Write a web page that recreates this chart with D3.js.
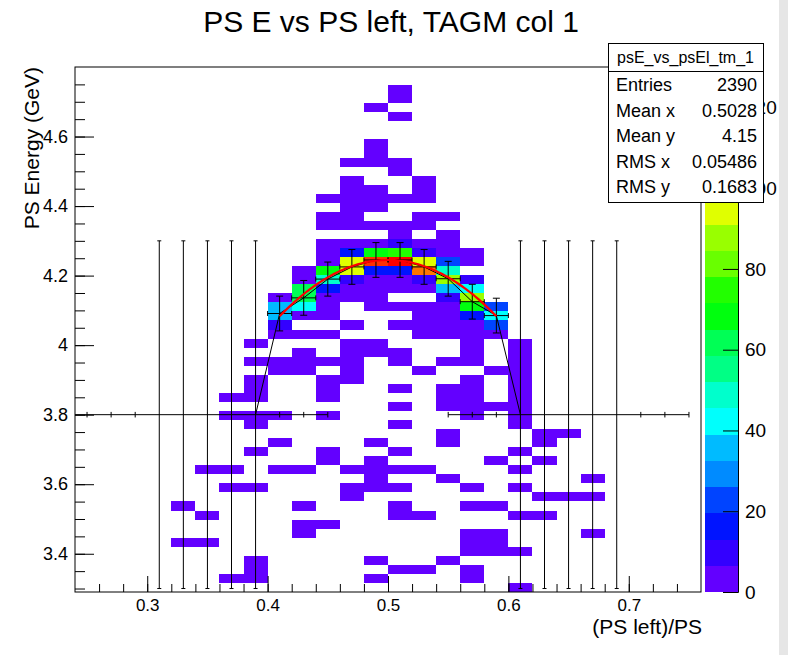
<!DOCTYPE html>
<html>
<head>
<meta charset="utf-8">
<script src="https://cdn.jsdelivr.net/npm/d3@7"></script>
<style>
  body { margin: 0; background: #fff; }
  svg { display: block; }
  text { font-family: "Liberation Sans", Arial, Helvetica, sans-serif; fill: #000; }
</style>
</head>
<body>
<svg id="chart" width="788" height="655"></svg>
<script>
// ---- histogram binning ----
const xRange = [0.24, 0.76];
const xBinCount = 26;
const yRange = [3.29, 4.80];
const yBinCount = 58;
const zRange = [0, 130];
const contourCount = 20;

// non-empty bins: [x bin, y bin, content]
const binContents = [
  [13,55,2],[13,54,2],[12,53,1],[13,52,1],[12,49,2],[12,48,2],
  [11,47,1],[12,47,3],[13,47,2],[13,46,1],
  [11,45,2],[14,45,1],
  [11,44,3],[12,44,2],[14,44,2],
  [10,43,1],[11,43,3],[12,43,4],[13,43,2],[14,43,2],
  [11,42,2],[12,42,3],
  [10,41,2],[11,41,3],[14,41,2],[15,41,1],
  [10,40,3],[11,40,4],[12,40,5],[13,40,4],[14,40,3],
  [13,39,3],[15,39,2],
  [10,38,3],[11,38,5],[12,38,6],[13,38,10],[14,38,5],[15,38,3],
  [10,37,4],[11,37,16],[12,37,68],[13,37,74],[14,37,10],[15,37,4],[16,37,2],
  [10,36,5],[11,36,94],[12,36,120],[13,36,127],[14,36,94],[15,36,22],[16,36,3],
  [9,35,3],[10,35,68],[11,35,94],[12,35,16],[13,35,16],[14,35,113],[15,35,48],
  [9,34,4],[10,34,48],[11,34,10],[12,34,5],[13,34,4],[14,34,10],[15,34,87],[16,34,10],
  [9,33,61],[10,33,16],[11,33,5],[12,33,4],[13,33,3],[14,33,5],[15,33,35],[16,33,42],
  [8,32,4],[9,32,61],[10,32,6],[11,32,3],[12,32,3],[15,32,10],[16,32,87],
  [8,31,35],[9,31,42],[10,31,5],[12,31,2],[13,31,3],[14,31,4],[15,31,5],[16,31,68],[17,31,22],
  [8,30,35],[9,30,5],[10,30,3],[14,30,3],[15,30,4],[16,30,16],[17,30,42],
  [8,29,10],[11,29,2],[13,29,2],[14,29,3],[15,29,3],[16,29,5],[17,29,22],
  [8,28,4],[9,28,3],[10,28,2],[14,28,2],[15,28,3],[16,28,3],[17,28,5],
  [7,27,2],[11,27,2],[12,27,1],[16,27,2],[18,27,2],
  [9,26,1],[11,26,2],[12,26,2],[13,26,1],[16,26,1],[18,26,2],
  [7,25,1],[8,25,2],[9,25,2],[10,25,3],[11,25,2],[13,25,2],[15,25,1],[16,25,2],[18,25,1],
  [8,24,1],[9,24,2],[11,24,1],[14,24,1],[17,24,2],[18,24,2],
  [7,23,1],[10,23,2],[11,23,1],[16,23,1],[18,23,1],
  [7,22,2],[10,22,1],[13,22,1],[15,22,2],[16,22,1],[18,22,2],
  [6,21,1],[7,21,1],[10,21,2],[15,21,1],[16,21,2],[18,21,1],
  [13,20,1],[15,20,1],[16,20,1],[17,20,1],[18,20,2],
  [6,19,1],[7,19,2],[8,19,1],[10,19,1],[16,19,1],[18,19,1],
  [7,18,1],[13,18,1],[18,18,1],
  [15,17,1],[19,17,1],[20,17,1],
  [8,16,1],[12,16,1],[15,16,1],[19,16,1],
  [7,15,1],[10,15,1],[13,15,1],[18,15,1],
  [10,14,1],[12,14,2],[17,14,1],[19,14,1],
  [5,13,1],[6,13,1],[8,13,1],[9,13,1],[11,13,1],[12,13,2],[13,13,1],[14,13,1],[18,13,1],
  [12,12,1],[15,12,1],[21,12,1],
  [6,11,1],[7,11,1],[11,11,1],[12,11,1],[13,11,1],[16,11,1],[18,11,1],
  [11,10,1],[19,10,1],[20,10,1],[21,10,1],
  [4,9,1],[9,9,1],[13,9,1],[16,9,1],[17,9,1],
  [5,8,1],[13,8,1],[14,8,1],[18,8,1],[19,8,1],
  [9,7,1],[10,7,1],
  [9,6,1],[16,6,1],[17,6,1],[21,6,1],
  [4,5,1],[5,5,1],[16,5,1],[17,5,1],
  [16,4,1],[17,4,1],[18,4,1],
  [7,3,1],[12,3,1],[15,3,1],
  [7,2,1],[13,2,1],[14,2,1],[16,2,1],
  [6,1,1],[7,1,1],[12,1,1],[16,1,1],
  [18,0,1]
];

// peak positions per slice (fitted slices)
const peakX   = [0.41, 0.43, 0.45, 0.47, 0.49, 0.51, 0.53, 0.55, 0.57, 0.59];
const peakY   = [4.091, 4.136, 4.190, 4.225, 4.245, 4.245, 4.225, 4.191, 4.125, 4.085];
const peakErr = [0.050, 0.050, 0.049, 0.050, 0.050, 0.050, 0.050, 0.050, 0.050, 0.050];
// slices without a fit, placed at the default energy
const sideX   = [0.25, 0.27, 0.29, 0.31, 0.33, 0.35, 0.37, 0.39, 0.41, 0.43, 0.45,
                 0.55, 0.57, 0.59, 0.61, 0.63, 0.65, 0.67, 0.69, 0.71, 0.73, 0.75];
const sideErr = [0.008, 0.008, 0.008, 0.5, 0.5, 0.5, 0.5, 0.5, 0.008, 0.008, 0.008,
                 0.008, 0.008, 0.008, 0.5, 0.5, 0.5, 0.5, 0.5, 0.008, 0.008, 0.008];
const sideY = 3.8;
// quadratic fit about x = 0.5
const fitCoef = [4.245, 0.0, -20.0];
const fitCenter = 0.5;
const fitRange = [0.41, 0.59];

const xTicks = [0.3, 0.4, 0.5, 0.6, 0.7];
const yTicks = [3.4, 3.6, 3.8, 4.0, 4.2, 4.4, 4.6];
const zTicks = [0, 20, 40, 60, 80, 100, 120];

const titleText = "PS E vs PS left, TAGM col 1";
const xTitle = "(PS left)/PS";
const yTitle = "PS Energy (GeV)";
const statsName = "psE_vs_psEl_tm_1";
const statsLabels = ["Entries", "Mean x", "Mean y", "RMS x", "RMS y"];
const statsValues = ["2390", "0.5028", "4.15", "0.05486", "0.1683"];

// ---- layout ----
const frame = { left: 75, right: 701, top: 67, bottom: 592 };
const bar = { left: 705, right: 738 };

const svg = d3.select("#chart");
const xs = d3.scaleLinear().domain(xRange).range([frame.left, frame.right]);
const ys = d3.scaleLinear().domain(yRange).range([frame.bottom, frame.top]);
const zs = d3.scaleLinear().domain(zRange).range([frame.bottom, frame.top]);

// rainbow palette: 50 colours, hue 280 -> 0
const baseColors = d3.range(50).map(i => d3.hsl(280 - (i + 1) * 5.6, 1, 0.5).formatHex());
const levelColor = k => baseColors[Math.floor((k + 0.99) * baseColors.length / contourCount)];
const levelStep = (zRange[1] - zRange[0]) / contourCount;
const levelOf = c => Math.min(contourCount - 1, Math.floor((c - zRange[0]) / levelStep));

svg.append("rect").attr("width", 788).attr("height", 655).attr("fill", "#fff");

// ---- cells ----
const xw = (xRange[1] - xRange[0]) / xBinCount;
const yh = (yRange[1] - yRange[0]) / yBinCount;
svg.append("g").attr("shape-rendering", "crispEdges")
  .selectAll("rect").data(binContents).join("rect")
  .attr("x", d => xs(xRange[0] + d[0] * xw))
  .attr("width", d => xs(xRange[0] + (d[0] + 1) * xw) - xs(xRange[0] + d[0] * xw))
  .attr("y", d => ys(yRange[0] + (d[1] + 1) * yh))
  .attr("height", d => ys(yRange[0] + d[1] * yh) - ys(yRange[0] + (d[1] + 1) * yh))
  .attr("fill", d => levelColor(levelOf(d[2])));

// ---- axes (ticks inside the frame) ----
const xMinor = d3.range(Math.round((xRange[0]) / 0.02) + 1, Math.round(xRange[1] / 0.02)).map(i => +(i * 0.02).toFixed(2));
const yMinor = d3.range(Math.ceil(yRange[0] / 0.05), Math.floor(yRange[1] / 0.05) + 1).map(i => +(i * 0.05).toFixed(2));

const axX = svg.append("g").attr("transform", `translate(0,${frame.bottom})`);
axX.call(d3.axisBottom(xs).tickValues(xMinor).tickSize(-8).tickFormat(""));
axX.call(g => g.select(".domain").remove());
const axX2 = svg.append("g").attr("transform", `translate(0,${frame.bottom})`);
axX2.call(d3.axisBottom(xs).tickValues(xTicks).tickSize(-16).tickPadding(7).tickFormat(d3.format(".1f")));
axX2.select(".domain").remove();
axX2.selectAll("text").attr("font-size", 17);

const axY = svg.append("g").attr("transform", `translate(${frame.left},0)`);
axY.call(d3.axisLeft(ys).tickValues(yMinor).tickSize(-10).tickFormat(""));
axY.select(".domain").remove();
const axY2 = svg.append("g").attr("transform", `translate(${frame.left},0)`);
axY2.call(d3.axisLeft(ys).tickValues(yTicks).tickSize(-19).tickPadding(7)
  .tickFormat(d => d === 4 ? "4" : d3.format(".1f")(d)));
axY2.select(".domain").remove();
axY2.selectAll("text").attr("font-size", 18);
svg.selectAll(".tick line").attr("stroke", "#000");

svg.append("rect")
  .attr("x", frame.left).attr("y", frame.top)
  .attr("width", frame.right - frame.left).attr("height", frame.bottom - frame.top)
  .attr("fill", "none").attr("stroke", "#000").attr("stroke-width", 1);

// ---- slice peaks ----
const gp = svg.append("g").attr("stroke", "#000").attr("stroke-width", 1).attr("fill", "none");
const line = d3.line().x(d => xs(d[0])).y(d => ys(d[1]));

// baseline through slices without a fit
const leftSide = sideX.filter(x => x < 0.5);
const rightSide = sideX.filter(x => x > 0.5);
gp.append("path").attr("d", line([[leftSide[0] - xw / 2, sideY], [leftSide[leftSide.length - 1], sideY]]));
gp.append("path").attr("d", line([[rightSide[0], sideY], [rightSide[rightSide.length - 1], sideY]]));
sideX.forEach((x, i) => {
  const y0 = ys(sideY - sideErr[i]), y1 = ys(sideY + sideErr[i]);
  gp.append("line").attr("x1", xs(x)).attr("x2", xs(x)).attr("y1", y0).attr("y2", y1);
  if (sideErr[i] > 0.1) {
    gp.append("line").attr("x1", xs(x) - 2).attr("x2", xs(x) + 2).attr("y1", y0).attr("y2", y0);
    gp.append("line").attr("x1", xs(x) - 2).attr("x2", xs(x) + 2).attr("y1", y1).attr("y2", y1);
  }
});

// polyline joining the fitted peaks to the neighbouring slices
const joinPts = [[peakX[0] - xw, sideY]]
  .concat(peakX.map((x, i) => [x, peakY[i]]))
  .concat([[peakX[peakX.length - 1] + xw, sideY]]);
gp.append("path").attr("d", line(joinPts));

peakX.forEach((x, i) => {
  const cx = xs(x), cy = ys(peakY[i]);
  const y0 = ys(peakY[i] - peakErr[i]), y1 = ys(peakY[i] + peakErr[i]);
  const x0 = xs(x - xw / 2), x1 = xs(x + xw / 2);
  gp.append("line").attr("x1", cx).attr("x2", cx).attr("y1", y0).attr("y2", y1);
  gp.append("line").attr("x1", cx - 3.5).attr("x2", cx + 3.5).attr("y1", y0).attr("y2", y0);
  gp.append("line").attr("x1", cx - 3.5).attr("x2", cx + 3.5).attr("y1", y1).attr("y2", y1);
  gp.append("line").attr("x1", x0).attr("x2", x1).attr("y1", cy).attr("y2", cy);
  gp.append("line").attr("x1", x0).attr("x2", x0).attr("y1", cy - 2.5).attr("y2", cy + 2.5);
  gp.append("line").attr("x1", x1).attr("x2", x1).attr("y1", cy - 2.5).attr("y2", cy + 2.5);
});

// fit curve
const fitFn = x => fitCoef.reduce((s, c, p) => s + c * Math.pow(x - fitCenter, p), 0);
const fitPts = d3.range(0, 101).map(i => {
  const x = fitRange[0] + (fitRange[1] - fitRange[0]) * i / 100;
  return [x, fitFn(x)];
});
svg.append("path").attr("d", line(fitPts))
  .attr("fill", "none").attr("stroke", "#ff0000").attr("stroke-width", 2.2);

// ---- palette ----
const pal = svg.append("g");
pal.append("g").attr("shape-rendering", "crispEdges")
  .selectAll("rect").data(d3.range(contourCount)).join("rect")
  .attr("x", bar.left).attr("width", bar.right - bar.left)
  .attr("y", k => zs(zRange[0] + (k + 1) * levelStep))
  .attr("height", k => zs(zRange[0] + k * levelStep) - zs(zRange[0] + (k + 1) * levelStep))
  .attr("fill", k => levelColor(k));
const axZ = pal.append("g").attr("transform", `translate(${bar.right},0)`);
axZ.call(d3.axisRight(zs).tickValues(zTicks).tickSize(-15).tickPadding(7));
axZ.select(".domain").attr("stroke", "#000");
axZ.selectAll(".tick line").attr("stroke", "#000");
axZ.selectAll("text").attr("font-size", 19);

// ---- titles ----
svg.append("text").attr("x", 391).attr("y", 32).attr("text-anchor", "middle")
  .attr("font-size", 30).text(titleText);
svg.append("text").attr("x", frame.right + 1).attr("y", 634).attr("text-anchor", "end")
  .attr("font-size", 21).text(xTitle);
svg.append("text").attr("transform", `translate(39,${frame.top}) rotate(-90)`)
  .attr("text-anchor", "end").attr("font-size", 21).text(yTitle);

// ---- statistics box ----
const sb = { x: 608, y: 43, w: 155, h: 159 };
const st = svg.append("g");
st.append("rect").attr("x", sb.x).attr("y", sb.y).attr("width", sb.w).attr("height", sb.h)
  .attr("fill", "#fff").attr("stroke", "#000").attr("stroke-width", 1).attr("shape-rendering", "crispEdges");
st.append("text").attr("x", sb.x + sb.w / 2).attr("y", sb.y + 20).attr("text-anchor", "middle")
  .attr("font-size", 16).text(statsName);
st.append("line").attr("x1", sb.x).attr("x2", sb.x + sb.w).attr("y1", sb.y + 28).attr("y2", sb.y + 28)
  .attr("stroke", "#000").attr("shape-rendering", "crispEdges");
statsLabels.forEach((lab, i) => {
  const yy = sb.y + 48 + i * 25.6;
  st.append("text").attr("x", sb.x + 8).attr("y", yy).attr("font-size", 18).text(lab);
  st.append("text").attr("x", sb.x + sb.w - 6).attr("y", yy).attr("text-anchor", "end")
    .attr("font-size", 18).text(statsValues[i]);
});

// window edge strip
svg.append("rect").attr("x", 779).attr("y", 0).attr("width", 9).attr("height", 655).attr("fill", "#e6e6e6");
</script>
</body>
</html>
